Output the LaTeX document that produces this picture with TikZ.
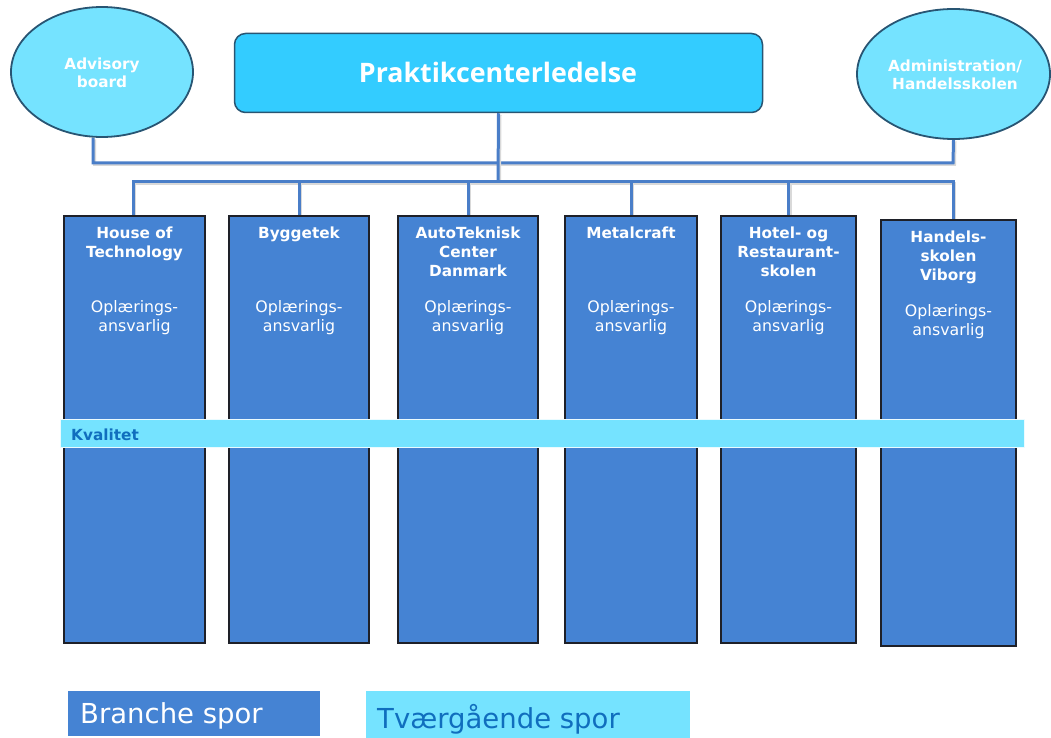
\documentclass[tikz,border=0pt]{standalone}
\usepackage{fontspec}
\setmainfont{DejaVu Sans}
\newfontfamily\osans{Open Sans}
\usetikzlibrary{shapes.geometric,backgrounds}
\definecolor{boxblue}{RGB}{69,131,211}
\definecolor{lineblue}{RGB}{74,126,200}
\definecolor{lightcyan}{RGB}{117,227,255}
\definecolor{prakcyan}{RGB}{51,204,255}
\definecolor{kvtext}{RGB}{16,110,190}
\definecolor{boxedge}{RGB}{30,32,40}
\definecolor{elledge}{RGB}{40,85,115}
\newcommand{\tb}[1]{\begin{tabular}[t]{@{}c@{}}#1\end{tabular}}
\tikzset{
  ell/.style={ellipse, draw=elledge, line width=1.8pt, fill=lightcyan, inner sep=0pt},
  prak/.style={rectangle, rounded corners=11pt, draw=elledge, line width=1.5pt, fill=prakcyan, inner sep=0pt},
  spor/.style={rectangle, draw=boxedge, line width=1.3pt, fill=boxblue, inner sep=0pt, minimum height=427pt},
  ttl/.style={anchor=base, inner sep=0pt, text=white, font=\fontsize{15.3}{19}\selectfont\bfseries},
  sub/.style={anchor=base, inner sep=0pt, text=white, font=\fontsize{15.8}{19.3}\selectfont},
  elltxt/.style={anchor=base, inner sep=0pt, text=white, font=\fontsize{15.3}{17.5}\selectfont\bfseries},
  conn/.style={draw=lineblue, line width=3pt, line join=miter,
    preaction={draw=black!15, line width=3pt, transform canvas={xshift=1.5pt,yshift=-1.5pt}}},
}
\begin{document}
\begin{tikzpicture}[x=1pt,y=-1pt]
\useasboundingbox (0,0) rectangle (1051,738);

% top level
\node[ell, minimum width=182pt, minimum height=130pt] (adv) at (102,72) {};
\node[elltxt] (advt) at (102,70) {\tb{Advisory\\board}};
\node[ell, minimum width=193pt, minimum height=130pt] (admin) at (953.5,74) {};
\node[elltxt] (admint) at (955,72) {\tb{Administration/\\Handelsskolen}};
\node[prak, minimum width=528pt, minimum height=79pt] (prak) at (498.5,73) {};
\node[anchor=base, inner sep=0pt, text=white, font=\osans\fontsize{26.8}{30}\selectfont\bfseries] (prakt) at (498,83) {Praktikcenterledelse};

% columns
\node[spor, minimum width=141pt] (box1) at (134.5,429.5) {};
\node[spor, minimum width=140pt] (box2) at (299,429.5) {};
\node[spor, minimum width=140pt] (box3) at (468,429.5) {};
\node[spor, minimum width=132pt] (box4) at (631,429.5) {};
\node[spor, minimum width=135pt] (box5) at (788.5,429.5) {};
\node[spor, minimum width=135pt, minimum height=426pt] (box6) at (948.5,433) {};

\node[ttl] (t1) at (134.5,238) {\tb{House of\\Technology}};
\node[ttl] (t2) at (299,238) {\tb{Byggetek}};
\node[ttl] (t3) at (468,238) {\tb{AutoTeknisk\\Center\\Danmark}};
\node[ttl] (t4) at (631,238) {\tb{Metalcraft}};
\node[ttl] (t5) at (788.5,238) {\tb{Hotel- og\\Restaurant-\\skolen}};
\node[ttl] (t6) at (948.5,242) {\tb{Handels-\\skolen\\Viborg}};

\node[sub] (s1) at (134.5,312.5) {\tb{Oplærings-\\ansvarlig}};
\node[sub] (s2) at (299,312.5) {\tb{Oplærings-\\ansvarlig}};
\node[sub] (s3) at (468,312.5) {\tb{Oplærings-\\ansvarlig}};
\node[sub] (s4) at (631,312.5) {\tb{Oplærings-\\ansvarlig}};
\node[sub] (s5) at (788.5,312.5) {\tb{Oplærings-\\ansvarlig}};
\node[sub] (s6) at (948.5,316.5) {\tb{Oplærings-\\ansvarlig}};

% quality band
\node[rectangle, fill=lightcyan, draw=white!85!lightcyan, line width=0.8pt, minimum width=964pt, minimum height=28pt, inner sep=0pt] (kval) at (542,433) {};
\node[anchor=base west, inner sep=0pt, text=kvtext, font=\fontsize{15.3}{18}\selectfont\bfseries] (kvalt) at (71,440) {Kvalitet};

% legend
\node[rectangle, fill=boxblue, minimum width=252pt, minimum height=45pt, inner sep=0pt] (leg1) at (194,713.5) {};
\node[anchor=base west, inner sep=0pt, text=white, font=\fontsize{27.5}{30}\selectfont] (leg1t) at (80,723) {Branche spor};
\node[rectangle, fill=lightcyan, minimum width=324pt, minimum height=48pt, inner sep=0pt] (leg2) at (528,715) {};
\node[anchor=base west, inner sep=0pt, text=kvtext, font=\fontsize{27.5}{30}\selectfont] (leg2t) at (377,728) {Tværgående spor};

% connectors
\coordinate (j1) at (93,163);
\coordinate (j2) at (953,163);
\coordinate (hub) at (498,182);
\coordinate (bl) at (133,182);
\coordinate (br) at (953,182);
\begin{scope}[on background layer]
\draw[conn] ([xshift=-9pt]adv.south) -- (j1) -- (j2) -- (admin.south);
\draw[conn] (prak.south) -- (hub);
\draw[conn] (box1.north -| bl) -- (bl) -- (br) -- (box6.north -| br);
\draw[conn] (box2.north |- hub) -- (box2.north);
\draw[conn] (box3.north |- hub) -- (box3.north);
\draw[conn] (box4.north |- hub) -- (box4.north);
\draw[conn] (box5.north |- hub) -- (box5.north);
\end{scope}
\end{tikzpicture}
\end{document}
